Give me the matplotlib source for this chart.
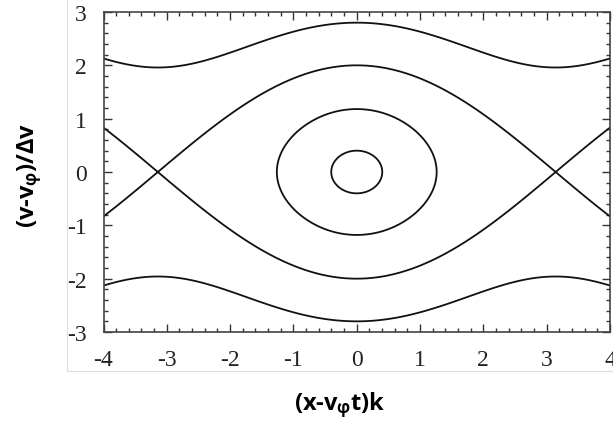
import numpy as np
import matplotlib
matplotlib.use("Agg")
import matplotlib.pyplot as plt
from matplotlib.ticker import MultipleLocator

plt.rcParams['mathtext.fontset'] = 'custom'
plt.rcParams['mathtext.rm'] = 'Open Sans:bold'
plt.rcParams['mathtext.it'] = 'Open Sans:bold'
plt.rcParams['mathtext.bf'] = 'Open Sans:bold'
plt.rcParams['axes.unicode_minus'] = False

# orbit heights read at x = 0 (v at the top of each curve)
orbit_vmax = [2.8, 2.0, 1.18, 0.4]
x_range = (-4, 4)
y_range = (-3, 3)
x_ticks = [-4, -3, -2, -1, 0, 1, 2, 3, 4]
y_ticks = [-3, -2, -1, 0, 1, 2, 3]

# energy levels of the pendulum H = v^2/2 - cos x
levels = sorted(v * v / 2 - 1 for v in orbit_vmax)

x = np.linspace(-4, 4, 1201)
v = np.linspace(-3, 3, 901)
X, V = np.meshgrid(x, v)
H = V ** 2 / 2 - np.cos(X)

fig = plt.figure(figsize=(6.13, 4.31), dpi=100)
ax = fig.add_axes([103.5 / 613, 1 - 333 / 431, (610 - 103.5) / 613, (333 - 13) / 431])
ax.contour(X, V, H, levels=levels, colors='#111111', linewidths=1.3, linestyles='solid')

ax.set_xlim(*x_range)
ax.set_ylim(*y_range)
ax.set_xticks(x_ticks)
ax.set_yticks(y_ticks)
ax.xaxis.set_minor_locator(MultipleLocator(0.2))
ax.yaxis.set_minor_locator(MultipleLocator(0.2))
ax.tick_params(which='both', direction='in', top=True, right=True, color='#333333')
ax.tick_params(which='major', length=6, width=1)
ax.tick_params(which='minor', length=3, width=1)
ax.tick_params(axis='x', pad=12)
ax.tick_params(axis='y', pad=12)
for lab in ax.get_xticklabels() + ax.get_yticklabels():
    lab.set_family('Liberation Serif')
    lab.set_fontsize(17)
    lab.set_color('#222222')
for s in ax.spines.values():
    s.set_color('#444444')
    s.set_linewidth(1.2)

# light border of the pasted image
fig.add_artist(plt.Line2D([67 / 613, 67 / 613], [1, 1 - 372 / 431], color='#dddddd', lw=0.8))
fig.add_artist(plt.Line2D([67 / 613, 1], [1 - 372 / 431, 1 - 372 / 431], color='#dddddd', lw=0.8))

fig.text(340 / 613, 1 - 405 / 431, r'(x-v$_{\mathrm{φ}}$t)k', ha='center', va='center',
         fontsize=17, fontweight='bold', family='Open Sans')
fig.text(30 / 613, 1 - 175 / 431, r'(v-v$_{\mathrm{φ}}$)/Δv', ha='center', va='center',
         rotation=90, fontsize=17, fontweight='bold', family='Open Sans')

fig.savefig('out.png', dpi=100)
